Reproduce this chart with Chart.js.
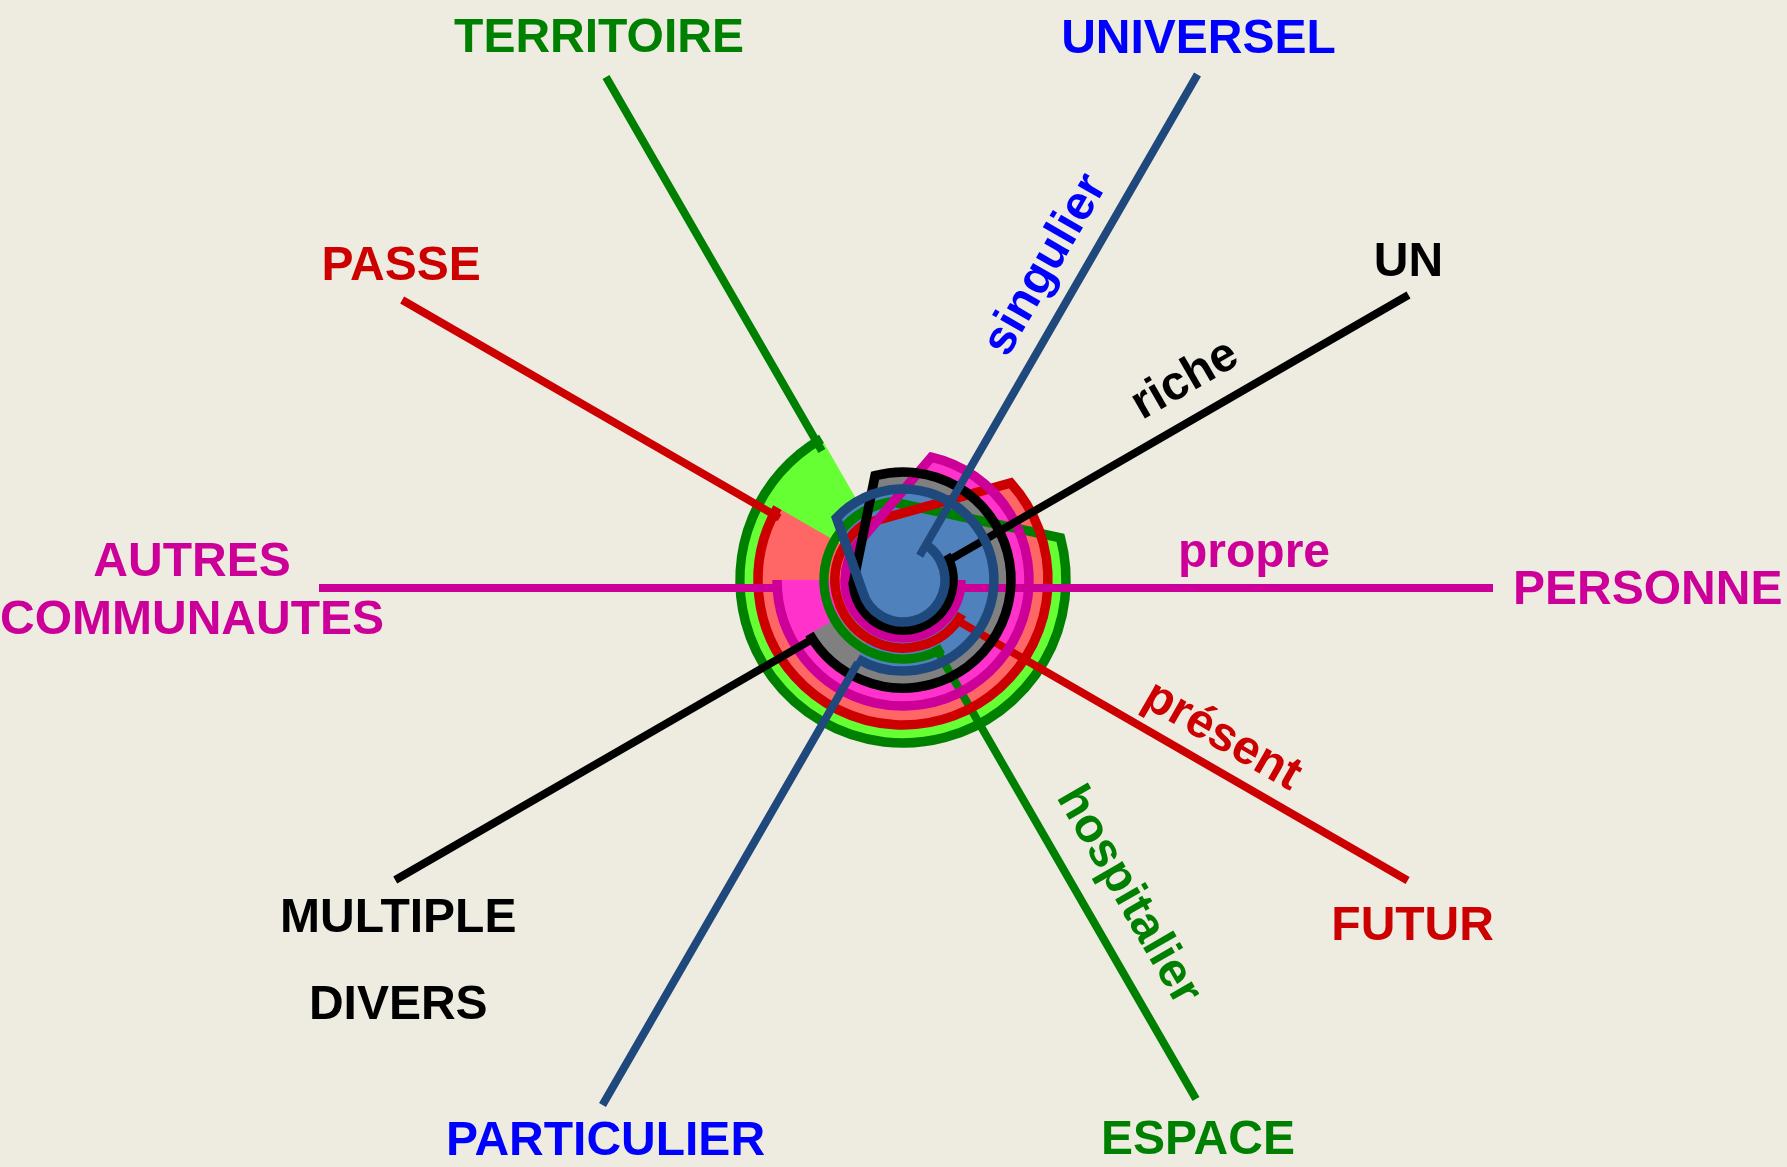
<!DOCTYPE html>
<html>
<head>
<meta charset="utf-8">
<script src="https://cdn.jsdelivr.net/npm/chart.js@4.4.1/dist/chart.umd.min.js"></script>
<style>
html,body{margin:0;padding:0;background:#eeebe0;}
canvas{display:block;}
</style>
</head>
<body>
<canvas id="c" width="1787" height="1167"></canvas>
<script>
// ---------- DATA ----------
// Each pair of opposite notions is joined by a spiral of one and a half turns (clockwise).
const startLabels = ['ESPACE', 'FUTUR', 'PERSONNE', 'UN', 'UNIVERSEL'];
const endLabels = ['TERRITOIRE', 'PASSE', 'AUTRES\nCOMMUNAUTES', 'MULTIPLE\nDIVERS', 'PARTICULIER'];
const middleWords = ['hospitalier', 'présent', 'propre', 'riche', 'singulier'];
const startAngles = [300, 330, 0, 30, 60];          // degrees, inner end of spiral
const endAngles = [120, 150, 180, 210, 240];        // degrees, outer end of spiral
const innerRadii = [79, 68, 58, 50, 42];            // inner turn radius
const outerRadii = [163, 145, 126, 108, 91];        // outer turn radius
const rampStartAngles = [98, 124, 142, 184, 197];   // where inner turn leaves
const rampEndAngles = [15, 42, 77, 105, 137];       // where outer turn begins
const startSpokeLengths = [590, 585, 592, 586, 593];
const endSpokeLengths = [590, 576, 582, 584, 597];

// ---------- STYLE / LAYOUT ----------
const strokeColors = ['#008000', '#cc0000', '#cc0099', '#000000', '#1f497d'];
const fillColors = ['#66ff33', '#ff6666', '#ff33cc', '#808080', '#4f81bd'];
const labelColors = ['#008000', '#cc0000', '#cc0099', '#000000', '#0000ff'];
const spokeOrigin = {x: -2, y: -8};
const startLabelLayout = [[2, 42, 'center', 0], [5, 46, 'center', 0], [20, 3, 'left', 0], [0, -32, 'center', 0], [1, -35, 'center', 0]];
const endLabelLayout = [[-7, -38, 'center', 0], [-1, -33, 'center', 0], [-127, -25, 'center', 58], [3, 39, 'center', 87], [3, 37, 'center', 0]];
const middleAlong = [380, 352, 353, 350, 352];
const middlePerp = [43, 32, 34, 38, 36];
const FONT = 'bold 48px "Liberation Sans", Arial, sans-serif';
const SPOKE_W = 8, RING_W = 9.5;

function cwTo(from, target) {
  const d = (((from - target) % 360) + 360) % 360;
  return from - d;
}
const rad = d => d * Math.PI / 180;

const bgPlugin = {
  id: 'bg',
  beforeDraw(chart) {
    const c = chart.ctx;
    c.save(); c.fillStyle = '#eeebe0'; c.fillRect(0, 0, chart.width, chart.height); c.restore();
  }
};

const spiralPlugin = {
  id: 'spirals',
  afterDatasetsDraw(chart) {
    const c = chart.ctx, xs = chart.scales.x, ys = chart.scales.y;
    const px = v => xs.getPixelForValue(v), py = v => ys.getPixelForValue(v);
    const unit = px(1) - px(0);
    const cx = px(0), cy = py(0);
    const polar = (a, r, o) => {
      const ox = o ? o.x : 0, oy = o ? o.y : 0;
      return [px(ox + r * Math.cos(rad(a))), py(oy + r * Math.sin(rad(a)))];
    };
    const geo = startAngles.map((s, i) => {
      const a = cwTo(s, rampStartAngles[i]);
      const b = cwTo(a, rampEndAngles[i]);
      const e = cwTo(b, endAngles[i]);
      return {s, a, b, e, ri: innerRadii[i], ro: outerRadii[i]};
    });
    function spiralPath(g) {
      c.arc(cx, cy, g.ri * unit, -rad(g.s), -rad(g.a), false);
      c.arc(cx, cy, g.ro * unit, -rad(g.b), -rad(g.e), false);
    }
    c.save();
    // fills
    geo.forEach((g, i) => {
      c.beginPath();
      c.moveTo(cx, cy);
      spiralPath(g);
      c.closePath();
      c.fillStyle = fillColors[i];
      c.fill();
    });
    // strokes: spokes then spiral, colour by colour
    c.lineJoin = 'miter';
    c.miterLimit = 10;
    c.lineCap = 'butt';
    const half = RING_W / 2;
    geo.forEach((g, i) => {
      const p0 = polar(startAngles[i], startSpokeLengths[i], spokeOrigin);
      const q0 = polar(startAngles[i], innerRadii[i] - half, spokeOrigin);
      const p1 = polar(endAngles[i], endSpokeLengths[i], spokeOrigin);
      const q1 = polar(endAngles[i], outerRadii[i] - half, spokeOrigin);
      c.strokeStyle = strokeColors[i];
      c.lineWidth = SPOKE_W;
      c.beginPath();
      c.moveTo(p0[0], p0[1]);
      c.lineTo(q0[0], q0[1]);
      c.moveTo(p1[0], p1[1]);
      c.lineTo(q1[0], q1[1]);
      c.stroke();
      c.beginPath();
      spiralPath(g);
      c.lineWidth = RING_W;
      c.stroke();
    });
    // labels
    c.font = FONT;
    c.textBaseline = 'middle';
    function drawLabel(text, pt, lay, color) {
      c.fillStyle = color;
      c.textAlign = lay[2];
      text.split('\n').forEach((line, k) => {
        c.fillText(line, pt[0] + lay[0], pt[1] + lay[1] + k * lay[3]);
      });
    }
    startLabels.forEach((t, i) => {
      drawLabel(t, polar(startAngles[i], startSpokeLengths[i], spokeOrigin), startLabelLayout[i], labelColors[i]);
    });
    endLabels.forEach((t, i) => {
      drawLabel(t, polar(endAngles[i], endSpokeLengths[i], spokeOrigin), endLabelLayout[i], labelColors[i]);
    });
    middleWords.forEach((w, i) => {
      const a = startAngles[i];
      const base = [spokeOrigin.x + middleAlong[i] * Math.cos(rad(a)) + middlePerp[i] * Math.cos(rad(a + 90)),
                    spokeOrigin.y + middleAlong[i] * Math.sin(rad(a)) + middlePerp[i] * Math.sin(rad(a + 90))];
      c.save();
      c.translate(px(base[0]), py(base[1]));
      c.rotate(-rad(a));
      c.textAlign = 'center';
      c.fillStyle = labelColors[i];
      c.fillText(w, 0, 0);
      c.restore();
    });
    c.restore();
  }
};

new Chart(document.getElementById('c'), {
  type: 'scatter',
  data: {datasets: []},
  options: {
    responsive: false,
    animation: false,
    devicePixelRatio: 1,
    layout: {padding: 0},
    plugins: {legend: {display: false}, tooltip: {enabled: false}, title: {display: false}},
    scales: {
      x: {type: 'linear', min: -903, max: 884, display: false},
      y: {type: 'linear', min: -587, max: 580, display: false}
    }
  },
  plugins: [bgPlugin, spiralPlugin]
});
</script>
</body>
</html>
